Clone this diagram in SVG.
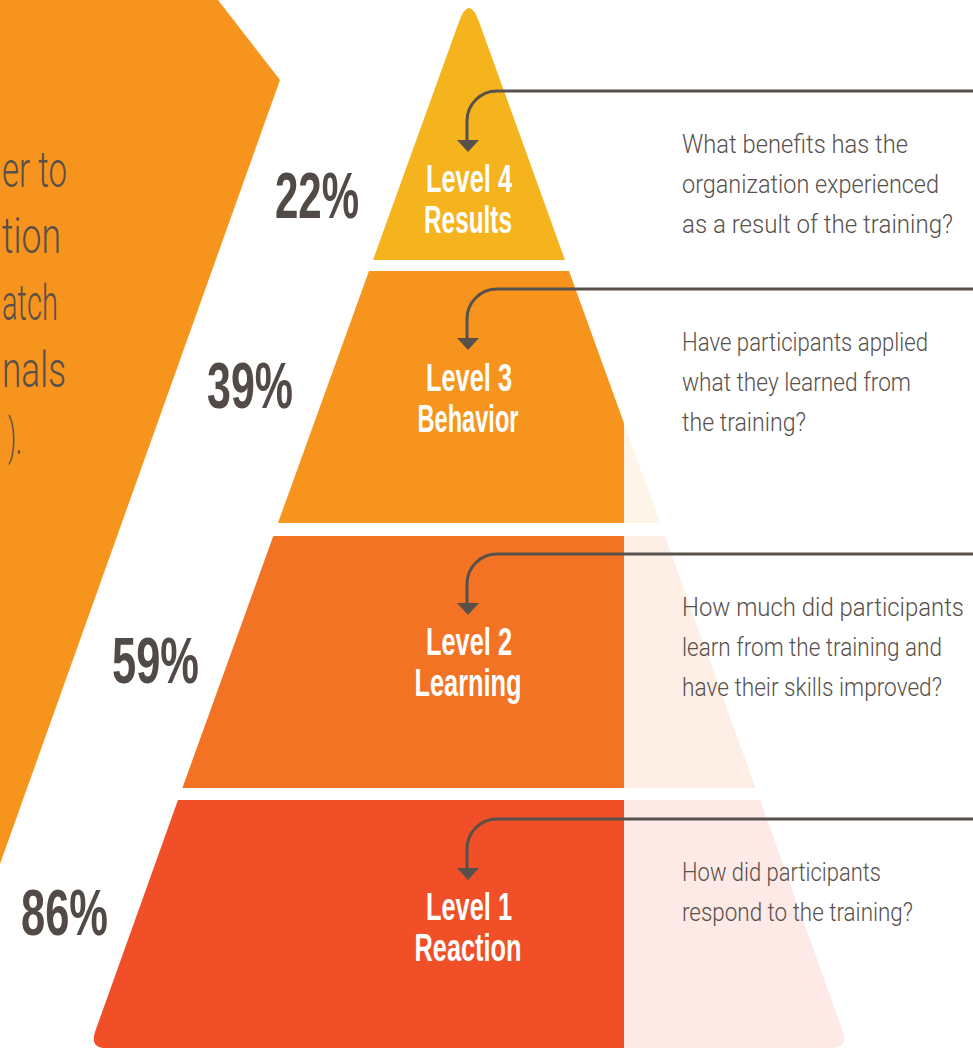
<svg xmlns="http://www.w3.org/2000/svg" width="973" height="1048" viewBox="0 0 973 1048">
  <defs>
    <style>
      .pct { font-family: "Liberation Sans", Arial, sans-serif; font-weight: bold; font-size: 64px; fill: #524A46; }
      .lvl { font-family: "Liberation Sans", Arial, sans-serif; font-weight: bold; font-size: 38px; fill: #FFFFFF; text-anchor: middle; }
      .q { font-family: Roboto, "Liberation Sans", sans-serif; font-weight: 300; font-size: 25px; fill: #58504B; }
      .side { font-family: Roboto, "Liberation Sans", sans-serif; font-weight: 300; font-size: 50px; fill: #58504B; text-anchor: end; }
      .conn { fill: none; stroke: #58504B; stroke-width: 3; }
      .head { fill: #58504B; }
    </style>
    <clipPath id="solid"><rect x="0" y="0" width="624" height="1048"/></clipPath>
  </defs>

  <g id="side-panel">
    <polygon points="0,0 218,0 280,80 0,864" fill="#F7941D"/>
    <text class="side" x="67" y="187" textLength="65" lengthAdjust="spacingAndGlyphs">er to</text>
    <text class="side" x="61" y="253" textLength="59" lengthAdjust="spacingAndGlyphs">tion</text>
    <text class="side" x="58" y="320" textLength="56" lengthAdjust="spacingAndGlyphs">atch</text>
    <text class="side" x="66" y="387" textLength="64" lengthAdjust="spacingAndGlyphs">nals</text>
    <text class="side" x="22" y="454" textLength="14" lengthAdjust="spacingAndGlyphs">).</text>
  </g>

  <g id="level4">
    <path d="M 373,260 L 458.9,22 Q 469,-6 479.1,22 L 565,260 Z" fill="#F5B41E"/>
    <text class="lvl" x="469" y="192" textLength="86" lengthAdjust="spacingAndGlyphs">Level 4</text>
    <text class="lvl" x="468" y="233" textLength="88" lengthAdjust="spacingAndGlyphs">Results</text>
    <text class="pct" x="275" y="218" textLength="84" lengthAdjust="spacingAndGlyphs">22%</text>
    <text class="q" x="682" y="153" textLength="226" lengthAdjust="spacingAndGlyphs">What benefits has the</text>
    <text class="q" x="682" y="193" textLength="257" lengthAdjust="spacingAndGlyphs">organization experienced</text>
    <text class="q" x="682" y="233" textLength="271" lengthAdjust="spacingAndGlyphs">as a result of the training?</text>
  </g>

  <g id="level3">
    <path d="M 369,271 L 569,271 L 660,523 L 278,523 Z" fill="#FEF4E8"/>
    <path d="M 369,271 L 569,271 L 660,523 L 278,523 Z" fill="#F7941D" clip-path="url(#solid)"/>
    <text class="lvl" x="469" y="391" textLength="86" lengthAdjust="spacingAndGlyphs">Level 3</text>
    <text class="lvl" x="468" y="432" textLength="101" lengthAdjust="spacingAndGlyphs">Behavior</text>
    <text class="pct" x="207" y="408" textLength="86" lengthAdjust="spacingAndGlyphs">39%</text>
    <text class="q" x="682" y="351" textLength="246" lengthAdjust="spacingAndGlyphs">Have participants applied</text>
    <text class="q" x="682" y="391" textLength="229" lengthAdjust="spacingAndGlyphs">what they learned from</text>
    <text class="q" x="682" y="431" textLength="124" lengthAdjust="spacingAndGlyphs">the training?</text>
  </g>

  <g id="level2">
    <path d="M 273.3,536 L 664.7,536 L 755.6,788 L 182.4,788 Z" fill="#FDEEE6"/>
    <path d="M 273.3,536 L 664.7,536 L 755.6,788 L 182.4,788 Z" fill="#F37324" clip-path="url(#solid)"/>
    <text class="lvl" x="469" y="655" textLength="86" lengthAdjust="spacingAndGlyphs">Level 2</text>
    <text class="lvl" x="468" y="696" textLength="107" lengthAdjust="spacingAndGlyphs">Learning</text>
    <text class="pct" x="112" y="683" textLength="87" lengthAdjust="spacingAndGlyphs">59%</text>
    <text class="q" x="682" y="616" textLength="282" lengthAdjust="spacingAndGlyphs">How much did participants</text>
    <text class="q" x="682" y="656" textLength="260" lengthAdjust="spacingAndGlyphs">learn from the training and</text>
    <text class="q" x="682" y="696" textLength="260" lengthAdjust="spacingAndGlyphs">have their skills improved?</text>
  </g>

  <g id="level1">
    <path d="M 178,800 L 760,800 L 843,1032 Q 848,1048 832,1048 L 106,1048 Q 90,1048 95,1032 Z" fill="#FDE9E5"/>
    <path d="M 178,800 L 760,800 L 843,1032 Q 848,1048 832,1048 L 106,1048 Q 90,1048 95,1032 Z" fill="#F04F27" clip-path="url(#solid)"/>
    <text class="lvl" x="469" y="920" textLength="86" lengthAdjust="spacingAndGlyphs">Level 1</text>
    <text class="lvl" x="468" y="961" textLength="107" lengthAdjust="spacingAndGlyphs">Reaction</text>
    <text class="pct" x="21" y="935" textLength="87" lengthAdjust="spacingAndGlyphs">86%</text>
    <text class="q" x="682" y="881" textLength="199" lengthAdjust="spacingAndGlyphs">How did participants</text>
    <text class="q" x="682" y="921" textLength="231" lengthAdjust="spacingAndGlyphs">respond to the training?</text>
  </g>

  <g id="connectors">
    <path class="conn" d="M 973,91 H 497 A 30 30 0 0 0 467,121 V 141"/>
    <polygon class="head" points="457,140 479,140 468,152"/>
    <path class="conn" d="M 973,289 H 497 A 30 30 0 0 0 467,319 V 339"/>
    <polygon class="head" points="457,338 479,338 468,350"/>
    <path class="conn" d="M 973,554 H 497 A 30 30 0 0 0 467,584 V 604"/>
    <polygon class="head" points="457,603 479,603 468,615"/>
    <path class="conn" d="M 973,819 H 497 A 30 30 0 0 0 467,849 V 869"/>
    <polygon class="head" points="457,868 479,868 468,880"/>
  </g>
</svg>
